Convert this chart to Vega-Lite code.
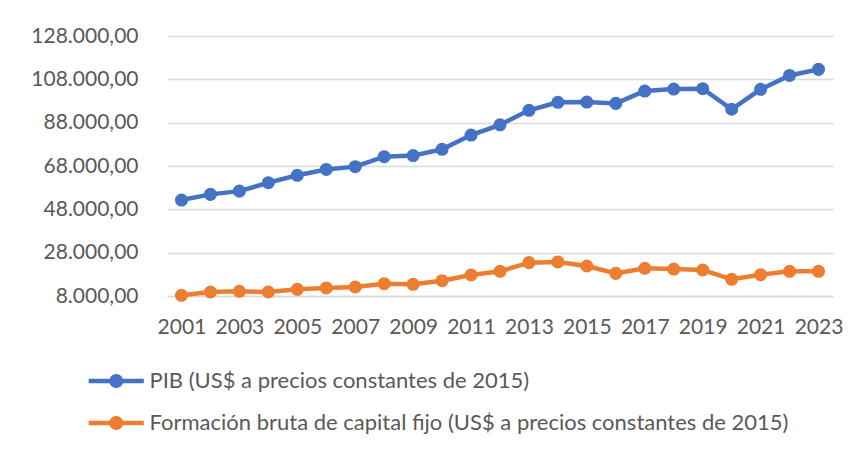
{
  "$schema": "https://vega.github.io/schema/vega-lite/v6.json",
  "width": 666,
  "height": 260,
  "autosize": {"type": "none"},
  "padding": {"left": 167, "top": 36, "right": 21, "bottom": 156},
  "background": "white",
  "config": {
    "locale": {"number": {"decimal": ",", "thousands": ".", "grouping": [3], "currency": ["US$", ""]}},
    "view": {"stroke": null},
    "font": "Lato"
  },
  "datasets": {
    "series": [
      {"year": 2001, "serie": "PIB (US$ a precios constantes de 2015)", "valor": 52300},
      {"year": 2002, "serie": "PIB (US$ a precios constantes de 2015)", "valor": 54900},
      {"year": 2003, "serie": "PIB (US$ a precios constantes de 2015)", "valor": 56400},
      {"year": 2004, "serie": "PIB (US$ a precios constantes de 2015)", "valor": 60300},
      {"year": 2005, "serie": "PIB (US$ a precios constantes de 2015)", "valor": 63700},
      {"year": 2006, "serie": "PIB (US$ a precios constantes de 2015)", "valor": 66400},
      {"year": 2007, "serie": "PIB (US$ a precios constantes de 2015)", "valor": 67700},
      {"year": 2008, "serie": "PIB (US$ a precios constantes de 2015)", "valor": 72300},
      {"year": 2009, "serie": "PIB (US$ a precios constantes de 2015)", "valor": 72800},
      {"year": 2010, "serie": "PIB (US$ a precios constantes de 2015)", "valor": 75700},
      {"year": 2011, "serie": "PIB (US$ a precios constantes de 2015)", "valor": 82300},
      {"year": 2012, "serie": "PIB (US$ a precios constantes de 2015)", "valor": 87000},
      {"year": 2013, "serie": "PIB (US$ a precios constantes de 2015)", "valor": 93700},
      {"year": 2014, "serie": "PIB (US$ a precios constantes de 2015)", "valor": 97400},
      {"year": 2015, "serie": "PIB (US$ a precios constantes de 2015)", "valor": 97500},
      {"year": 2016, "serie": "PIB (US$ a precios constantes de 2015)", "valor": 96900},
      {"year": 2017, "serie": "PIB (US$ a precios constantes de 2015)", "valor": 102600},
      {"year": 2018, "serie": "PIB (US$ a precios constantes de 2015)", "valor": 103500},
      {"year": 2019, "serie": "PIB (US$ a precios constantes de 2015)", "valor": 103700},
      {"year": 2020, "serie": "PIB (US$ a precios constantes de 2015)", "valor": 94200},
      {"year": 2021, "serie": "PIB (US$ a precios constantes de 2015)", "valor": 103400},
      {"year": 2022, "serie": "PIB (US$ a precios constantes de 2015)", "valor": 109800},
      {"year": 2023, "serie": "PIB (US$ a precios constantes de 2015)", "valor": 112600},
      {"year": 2001, "serie": "Formación bruta de capital fijo (US$ a precios constantes de 2015)", "valor": 8300},
      {"year": 2002, "serie": "Formación bruta de capital fijo (US$ a precios constantes de 2015)", "valor": 9850},
      {"year": 2003, "serie": "Formación bruta de capital fijo (US$ a precios constantes de 2015)", "valor": 10150},
      {"year": 2004, "serie": "Formación bruta de capital fijo (US$ a precios constantes de 2015)", "valor": 9850},
      {"year": 2005, "serie": "Formación bruta de capital fijo (US$ a precios constantes de 2015)", "valor": 11100},
      {"year": 2006, "serie": "Formación bruta de capital fijo (US$ a precios constantes de 2015)", "valor": 11700},
      {"year": 2007, "serie": "Formación bruta de capital fijo (US$ a precios constantes de 2015)", "valor": 12150},
      {"year": 2008, "serie": "Formación bruta de capital fijo (US$ a precios constantes de 2015)", "valor": 13700},
      {"year": 2009, "serie": "Formación bruta de capital fijo (US$ a precios constantes de 2015)", "valor": 13400},
      {"year": 2010, "serie": "Formación bruta de capital fijo (US$ a precios constantes de 2015)", "valor": 15050},
      {"year": 2011, "serie": "Formación bruta de capital fijo (US$ a precios constantes de 2015)", "valor": 17700},
      {"year": 2012, "serie": "Formación bruta de capital fijo (US$ a precios constantes de 2015)", "valor": 19400},
      {"year": 2013, "serie": "Formación bruta de capital fijo (US$ a precios constantes de 2015)", "valor": 23400},
      {"year": 2014, "serie": "Formación bruta de capital fijo (US$ a precios constantes de 2015)", "valor": 23700},
      {"year": 2015, "serie": "Formación bruta de capital fijo (US$ a precios constantes de 2015)", "valor": 21850},
      {"year": 2016, "serie": "Formación bruta de capital fijo (US$ a precios constantes de 2015)", "valor": 18450},
      {"year": 2017, "serie": "Formación bruta de capital fijo (US$ a precios constantes de 2015)", "valor": 20800},
      {"year": 2018, "serie": "Formación bruta de capital fijo (US$ a precios constantes de 2015)", "valor": 20450},
      {"year": 2019, "serie": "Formación bruta de capital fijo (US$ a precios constantes de 2015)", "valor": 20000},
      {"year": 2020, "serie": "Formación bruta de capital fijo (US$ a precios constantes de 2015)", "valor": 15700},
      {"year": 2021, "serie": "Formación bruta de capital fijo (US$ a precios constantes de 2015)", "valor": 17850},
      {"year": 2022, "serie": "Formación bruta de capital fijo (US$ a precios constantes de 2015)", "valor": 19400},
      {"year": 2023, "serie": "Formación bruta de capital fijo (US$ a precios constantes de 2015)", "valor": 19400}
    ]
  },
  "data": {"name": "series"},
  "encoding": {
    "x": {
      "field": "year",
      "type": "ordinal",
      "scale": {"type": "point", "padding": 0.5},
      "axis": {
        "title": null,
        "values": [2001, 2003, 2005, 2007, 2009, 2011, 2013, 2015, 2017, 2019, 2021, 2023],
        "labelAngle": 0,
        "ticks": false,
        "domain": true,
        "domainColor": "#D9D9D9",
        "domainWidth": 1.5,
        "labelFontSize": 21,
        "labelColor": "#595959",
        "labelPadding": 20,
        "grid": false
      }
    },
    "y": {
      "field": "valor",
      "type": "quantitative",
      "scale": {"domain": [8000, 128000], "nice": false, "zero": false},
      "axis": {
        "title": null,
        "values": [8000, 28000, 48000, 68000, 88000, 108000, 128000],
        "format": ",.2f",
        "ticks": false,
        "domain": false,
        "grid": true,
        "gridColor": "#D9D9D9",
        "gridWidth": 1.5,
        "labelFontSize": 21,
        "labelColor": "#595959",
        "labelPadding": 29
      }
    },
    "color": {
      "field": "serie",
      "type": "nominal",
      "scale": {
        "domain": ["PIB (US$ a precios constantes de 2015)", "Formación bruta de capital fijo (US$ a precios constantes de 2015)"],
        "range": ["#4472C4", "#ED7D31"]
      },
      "legend": {
        "title": null,
        "orient": "none",
        "direction": "vertical",
        "legendX": -67.75,
        "legendY": 328,
        "padding": 0,
        "symbolType": "M-1.9,0H1.9M-0.33,0A0.33,0.33 0 1,1 0.33,0A0.33,0.33 0 1,1 -0.33,0Z",
        "symbolSize": 841,
        "symbolStrokeWidth": 4.5,
        "labelFontSize": 22,
        "labelColor": "#595959",
        "labelOffset": 16.25,
        "rowPadding": 11,
        "labelLimit": 800,
        "encode": {
          "symbols": {"update": {"fill": {"scale": "color", "field": "value"}, "stroke": {"scale": "color", "field": "value"}}}
        }
      }
    }
  },
  "mark": {"type": "line", "strokeWidth": 4.5, "point": {"size": 170, "filled": true, "opacity": 1}}
}
